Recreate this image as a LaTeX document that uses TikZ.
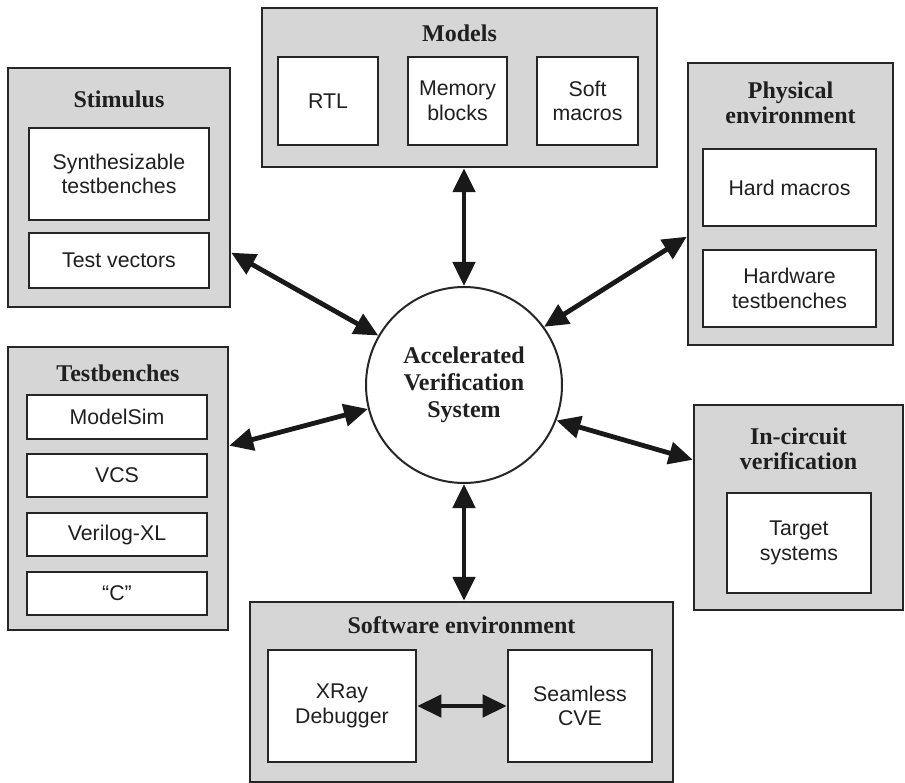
\documentclass[tikz,border=0pt]{standalone}
\usepackage{fontspec}
\setmainfont{Liberation Serif}
\setsansfont{Liberation Sans}
\usetikzlibrary{arrows.meta,calc}

\tikzset{
  group/.style={draw=black!85, line width=2.4pt, fill=black!16, inner sep=0pt},
  item/.style={draw=black!85, line width=2.6pt, fill=white, inner sep=0pt, align=center,
    font=\sffamily\fontsize{21.3}{24.5}\selectfont, text=black!88},
  title/.style={font=\bfseries\fontsize{24}{25}\selectfont, text=black!88, align=center, inner sep=0pt},
  hub/.style={circle, draw=black!85, line width=2pt, fill=white, minimum size=196pt, inner sep=0pt,
    align=center, font=\bfseries\fontsize{24}{27}\selectfont, text=black!88},
  link/.style={line width=4.8pt, draw=black!90,
    {Triangle[length=24pt 0 0, width=22pt 0 0]}-{Triangle[length=24pt 0 0, width=22pt 0 0]}}
}

\begin{document}
\begin{tikzpicture}[x=1pt,y=-1pt]
\useasboundingbox (0,0) rectangle (905,783);

% Models
\node[group, minimum width=395pt, minimum height=159pt] (models) at (459.5,87.5) {};
\node[title] (modelsT) at (459.5,33) {Models};
\node[item, minimum width=100pt, minimum height=88pt] (rtl) at (328,101) {RTL};
\node[item, minimum width=99pt, minimum height=88pt] (mem) at (457.5,101) {Memory\\blocks};
\node[item, minimum width=101pt, minimum height=88pt] (soft) at (587.5,101) {Soft\\macros};

% Stimulus
\node[group, minimum width=222pt, minimum height=239pt] (stim) at (119,187.5) {};
\node[title] (stimT) at (119,99) {Stimulus};
\node[item, minimum width=180pt, minimum height=92pt] (synth) at (119,174) {Synthesizable\\testbenches};
\node[item, minimum width=180pt, minimum height=55pt] (tv) at (119,260.5) {Test vectors};

% Physical environment
\node[group, minimum width=205pt, minimum height=282pt] (phys) at (790.5,204) {};
\node[title] (physT) at (790.5,102.5) {Physical\\environment};
\node[item, minimum width=173pt, minimum height=77pt] (hard) at (789.5,187.5) {Hard macros};
\node[item, minimum width=173pt, minimum height=77pt] (hwtb) at (789.5,288.5) {Hardware\\testbenches};

% Testbenches
\node[group, minimum width=220pt, minimum height=283pt] (tb) at (118,488.5) {};
\node[title] (tbT) at (118,373) {Testbenches};
\node[item, minimum width=180pt, minimum height=44pt] (msim) at (117,417) {ModelSim};
\node[item, minimum width=180pt, minimum height=43pt] (vcs) at (117,475.5) {VCS};
\node[item, minimum width=180pt, minimum height=43pt] (vxl) at (117,534.5) {Verilog-XL};
\node[item, minimum width=180pt, minimum height=43pt] (cq) at (117,593.5) {“C”};

% In-circuit verification
\node[group, minimum width=209pt, minimum height=205pt] (ic) at (798.5,507.5) {};
\node[title] (icT) at (798.5,448.5) {In-circuit\\verification};
\node[item, minimum width=144pt, minimum height=100pt] (target) at (799,543) {Target\\systems};

% Software environment
\node[group, minimum width=423pt, minimum height=180pt] (sw) at (461.5,692) {};
\node[title] (swT) at (461.5,625) {Software environment};
\node[item, minimum width=148pt, minimum height=112pt] (xray) at (342,706) {XRay\\Debugger};
\node[item, minimum width=144pt, minimum height=112pt] (seam) at (580,706) {Seamless\\CVE};

% Central system
\node[hub] (avs) at (464,385) {Accelerated\\Verification\\System};

% Connections
\coordinate (stimA) at ($(stim.north east)!0.77!(stim.south east)$);
\coordinate (physA) at ($(phys.north west)!0.615!(phys.south west)$);
\coordinate (tbA) at ($(tb.north west)!0.35!(tb.south west)$);
\coordinate (tbB) at (tb.east |- tbA);
\coordinate (icA) at ($(ic.north west)!0.27!(ic.south west)$);

\draw[link] (models.south -| avs.north) -- (avs.north);
\draw[link] (avs.south) -- (sw.north -| avs.south);
\draw[link] (stimA) -- (avs.150);
\draw[link] (physA) -- (avs.36);
\draw[link] (tbB) -- (avs.194);
\draw[link] (icA) -- (avs.339);
\draw[link] (xray.east) -- (seam.west);
\end{tikzpicture}
\end{document}
